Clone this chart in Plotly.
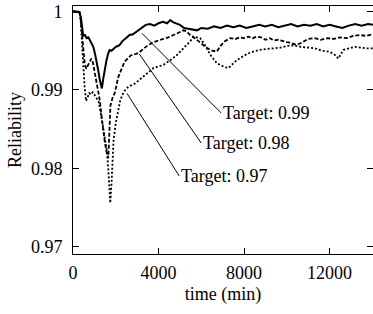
import plotly.graph_objects as go

# ---- data (time in min, reliability) ----
t99 = [0, 150, 300, 370, 430, 480, 560, 640, 720, 800, 870, 950, 1030, 1100, 1180, 1260, 1350,
       1420, 1500, 1560, 1640, 1710, 1800, 1900, 2000, 2100, 2200, 2300, 2400, 2500, 2650, 2800,
       2950, 3100, 3250, 3400, 3600, 3800, 4000, 4200, 4400, 4550, 4700, 4850, 5000, 5200, 5400,
       5600, 5800, 6000, 6300, 6600, 6900, 7200, 7500, 7800, 8100, 8400, 8700, 9000, 9300, 9600,
       9900, 10200, 10500, 10800, 11100, 11400, 11700, 12000, 12300, 12600, 12900, 13200, 13500,
       13800, 14030]
r99 = [1.0000, 1.0000, 0.99995, 0.9992, 0.9975, 0.9969, 0.9970, 0.9966, 0.9967, 0.9962, 0.9960,
       0.9955, 0.9946, 0.9938, 0.9925, 0.9912, 0.9902, 0.9915, 0.9930, 0.9937, 0.9946, 0.9951,
       0.9950, 0.9953, 0.9955, 0.9956, 0.9958, 0.9962, 0.9964, 0.9967, 0.9970, 0.9971, 0.9974,
       0.9976, 0.9980, 0.9983, 0.9984, 0.9982, 0.9985, 0.9987, 0.9985, 0.9989, 0.9986, 0.9984,
       0.9983, 0.9979, 0.9978, 0.9977, 0.9976, 0.9979, 0.9978, 0.9981, 0.9979, 0.9982, 0.9980,
       0.9982, 0.9979, 0.9981, 0.9983, 0.9981, 0.9983, 0.9980, 0.9982, 0.9984, 0.9981, 0.9983,
       0.9982, 0.9984, 0.9981, 0.9983, 0.9981, 0.9979, 0.9982, 0.9984, 0.9982, 0.9984, 0.9983]

t98 = [0, 150, 300, 360, 420, 480, 550, 620, 700, 780, 855, 930, 1010, 1100, 1180, 1240, 1320,
       1400, 1480, 1560, 1650, 1700, 1750, 1850, 1950, 2030, 2100, 2200, 2300, 2410, 2550, 2700,
       2800, 2950, 3100, 3300, 3500, 3766, 4000, 4234, 4450, 4700, 4950, 5170, 5300, 5480, 5700,
       5900, 6100, 6300, 6500, 6730, 6890, 7100, 7350, 7600, 7800, 8000, 8200, 8400, 8600, 8800,
       9000, 9200, 9400, 9600, 9800, 10000, 10200, 10400, 10600, 10800, 11000, 11300, 11600,
       11900, 12200, 12500, 12800, 13100, 13400, 13700, 14030]
r98 = [1.0000, 1.0000, 0.99995, 0.9990, 0.9970, 0.9950, 0.9933, 0.9927, 0.9932, 0.9937, 0.9940,
       0.9935, 0.9924, 0.9910, 0.9898, 0.9889, 0.9870, 0.9850, 0.9835, 0.9822, 0.9813, 0.9845,
       0.9880, 0.9890, 0.9896, 0.9905, 0.9915, 0.9922, 0.9929, 0.9936, 0.9940, 0.9944, 0.9945,
       0.9946, 0.9948, 0.9953, 0.9957, 0.9961, 0.9963, 0.9966, 0.9967, 0.9970, 0.9973, 0.9976,
       0.9975, 0.9970, 0.9966, 0.9961, 0.9957, 0.9953, 0.9950, 0.9949, 0.9956, 0.9962, 0.9966,
       0.9965, 0.9967, 0.9966, 0.9968, 0.9966, 0.9968, 0.9967, 0.9964, 0.9966, 0.9963, 0.9964,
       0.9962, 0.9961, 0.9960, 0.9958, 0.9959, 0.9962, 0.9965, 0.9966, 0.9964, 0.9966, 0.9965,
       0.9967, 0.9966, 0.9969, 0.9970, 0.9969, 0.9971]

t97 = [0, 150, 300, 360, 420, 480, 540, 610, 680, 760, 840, 920, 1000, 1100, 1200, 1300, 1400,
       1500, 1590, 1660, 1743, 1800, 1897, 2000, 2100, 2210, 2350, 2490, 2650, 2880, 3110, 3300,
       3550, 3766, 4000, 4234, 4547, 4800, 5014, 5170, 5327, 5480, 5636, 5800, 5950, 6200, 6415,
       6730, 6890, 7100, 7270, 7450, 7660, 7900, 8150, 8440, 8700, 9000, 9375, 9700, 10000, 10310,
       10650, 11000, 11320, 11650, 11945, 12200, 12410, 12645, 12900, 13190, 13450, 13700, 14030]
r97 = [1.0000, 1.0000, 0.99995, 0.9988, 0.9960, 0.9930, 0.9905, 0.9886, 0.9891, 0.9896, 0.9894,
       0.9897, 0.9894, 0.9889, 0.9885, 0.9870, 0.9855, 0.9838, 0.9822, 0.9795, 0.9756, 0.9780,
       0.9836, 0.9858, 0.9874, 0.9887, 0.9896, 0.9902, 0.9905, 0.9908, 0.9913, 0.9917, 0.9923,
       0.9928, 0.9930, 0.9932, 0.9938, 0.9943, 0.9949, 0.9953, 0.9957, 0.9962, 0.9968, 0.9967,
       0.9966, 0.9956, 0.9945, 0.9934, 0.9932, 0.9929, 0.9928, 0.9933, 0.9938, 0.9942, 0.9946,
       0.9949, 0.9951, 0.9952, 0.9953, 0.9954, 0.9956, 0.9957, 0.9955, 0.9954, 0.9953, 0.9950,
       0.9949, 0.9946, 0.9940, 0.9951, 0.9953, 0.9955, 0.9954, 0.9953, 0.9953]

series = [
    ("Target: 0.99", t99, r99, "solid", 2.0),
    ("Target: 0.98", t98, r98, "4px,2px", 1.8),
    ("Target: 0.97", t97, r97, "2px,2px", 1.8),
]

# label anchors: (point on curve) -> (start of label text)
label_text = ["Target: 0.99", "Target: 0.98", "Target: 0.97"]
label_tip_x = [3224, 3098, 2523]
label_tip_y = [0.99722, 0.99459, 0.98958]
label_txt_x = [6930, 5995, 4967]
label_txt_y = [0.98707, 0.98325, 0.97904]

x_ticks = [0, 4000, 8000, 12000]
x_tick_text = ["0", "4000", "8000", "12000"]
y_ticks = [0.97, 0.98, 0.99, 1.0]
y_tick_text = ["0.97", "0.98", "0.99", "1"]

SERIF = "Liberation Serif, Times New Roman, serif"

fig = go.Figure()
for name, xs, ys, dash, w in series:
    fig.add_trace(go.Scatter(x=xs, y=ys, mode="lines", name=name,
                             line=dict(color="black", width=w, dash=dash),
                             showlegend=False))

for txt, tx, ty, ax, ay in zip(label_text, label_tip_x, label_tip_y, label_txt_x, label_txt_y):
    fig.add_annotation(x=tx, y=ty, ax=ax, ay=ay, axref="x", ayref="y",
                       text=txt, showarrow=True, arrowhead=0, arrowwidth=1,
                       arrowcolor="black", standoff=0,
                       xanchor="left", yanchor="middle",
                       font=dict(family=SERIF, size=18, color="black"))

axis_common = dict(showline=True, linecolor="black", linewidth=1, mirror="ticks",
                   ticks="inside", ticklen=6, tickcolor="black", tickwidth=1,
                   showgrid=False, zeroline=False,
                   tickfont=dict(family=SERIF, size=18, color="black"))

fig.update_layout(
    width=373, height=314,
    margin=dict(l=73, r=0, t=6, b=60),
    paper_bgcolor="white", plot_bgcolor="white",
    font=dict(family=SERIF, size=18, color="black"),
    xaxis=dict(range=[0, 14030], tickvals=x_ticks, ticktext=x_tick_text,
               ticklabelstandoff=2,
               title=dict(text="time (min)", standoff=5,
                          font=dict(family=SERIF, size=18, color="black")),
               **axis_common),
    yaxis=dict(range=[0.9691, 1.0007], tickvals=y_ticks, ticktext=y_tick_text,
               ticklabelstandoff=6,
               title=dict(text="Reliability", standoff=4,
                          font=dict(family=SERIF, size=18, color="black")),
               **axis_common),
)

fig.write_html("out.html",
               config={"displayModeBar": False},
               post_script="document.body.style.margin='0';document.body.style.overflow='hidden';")
